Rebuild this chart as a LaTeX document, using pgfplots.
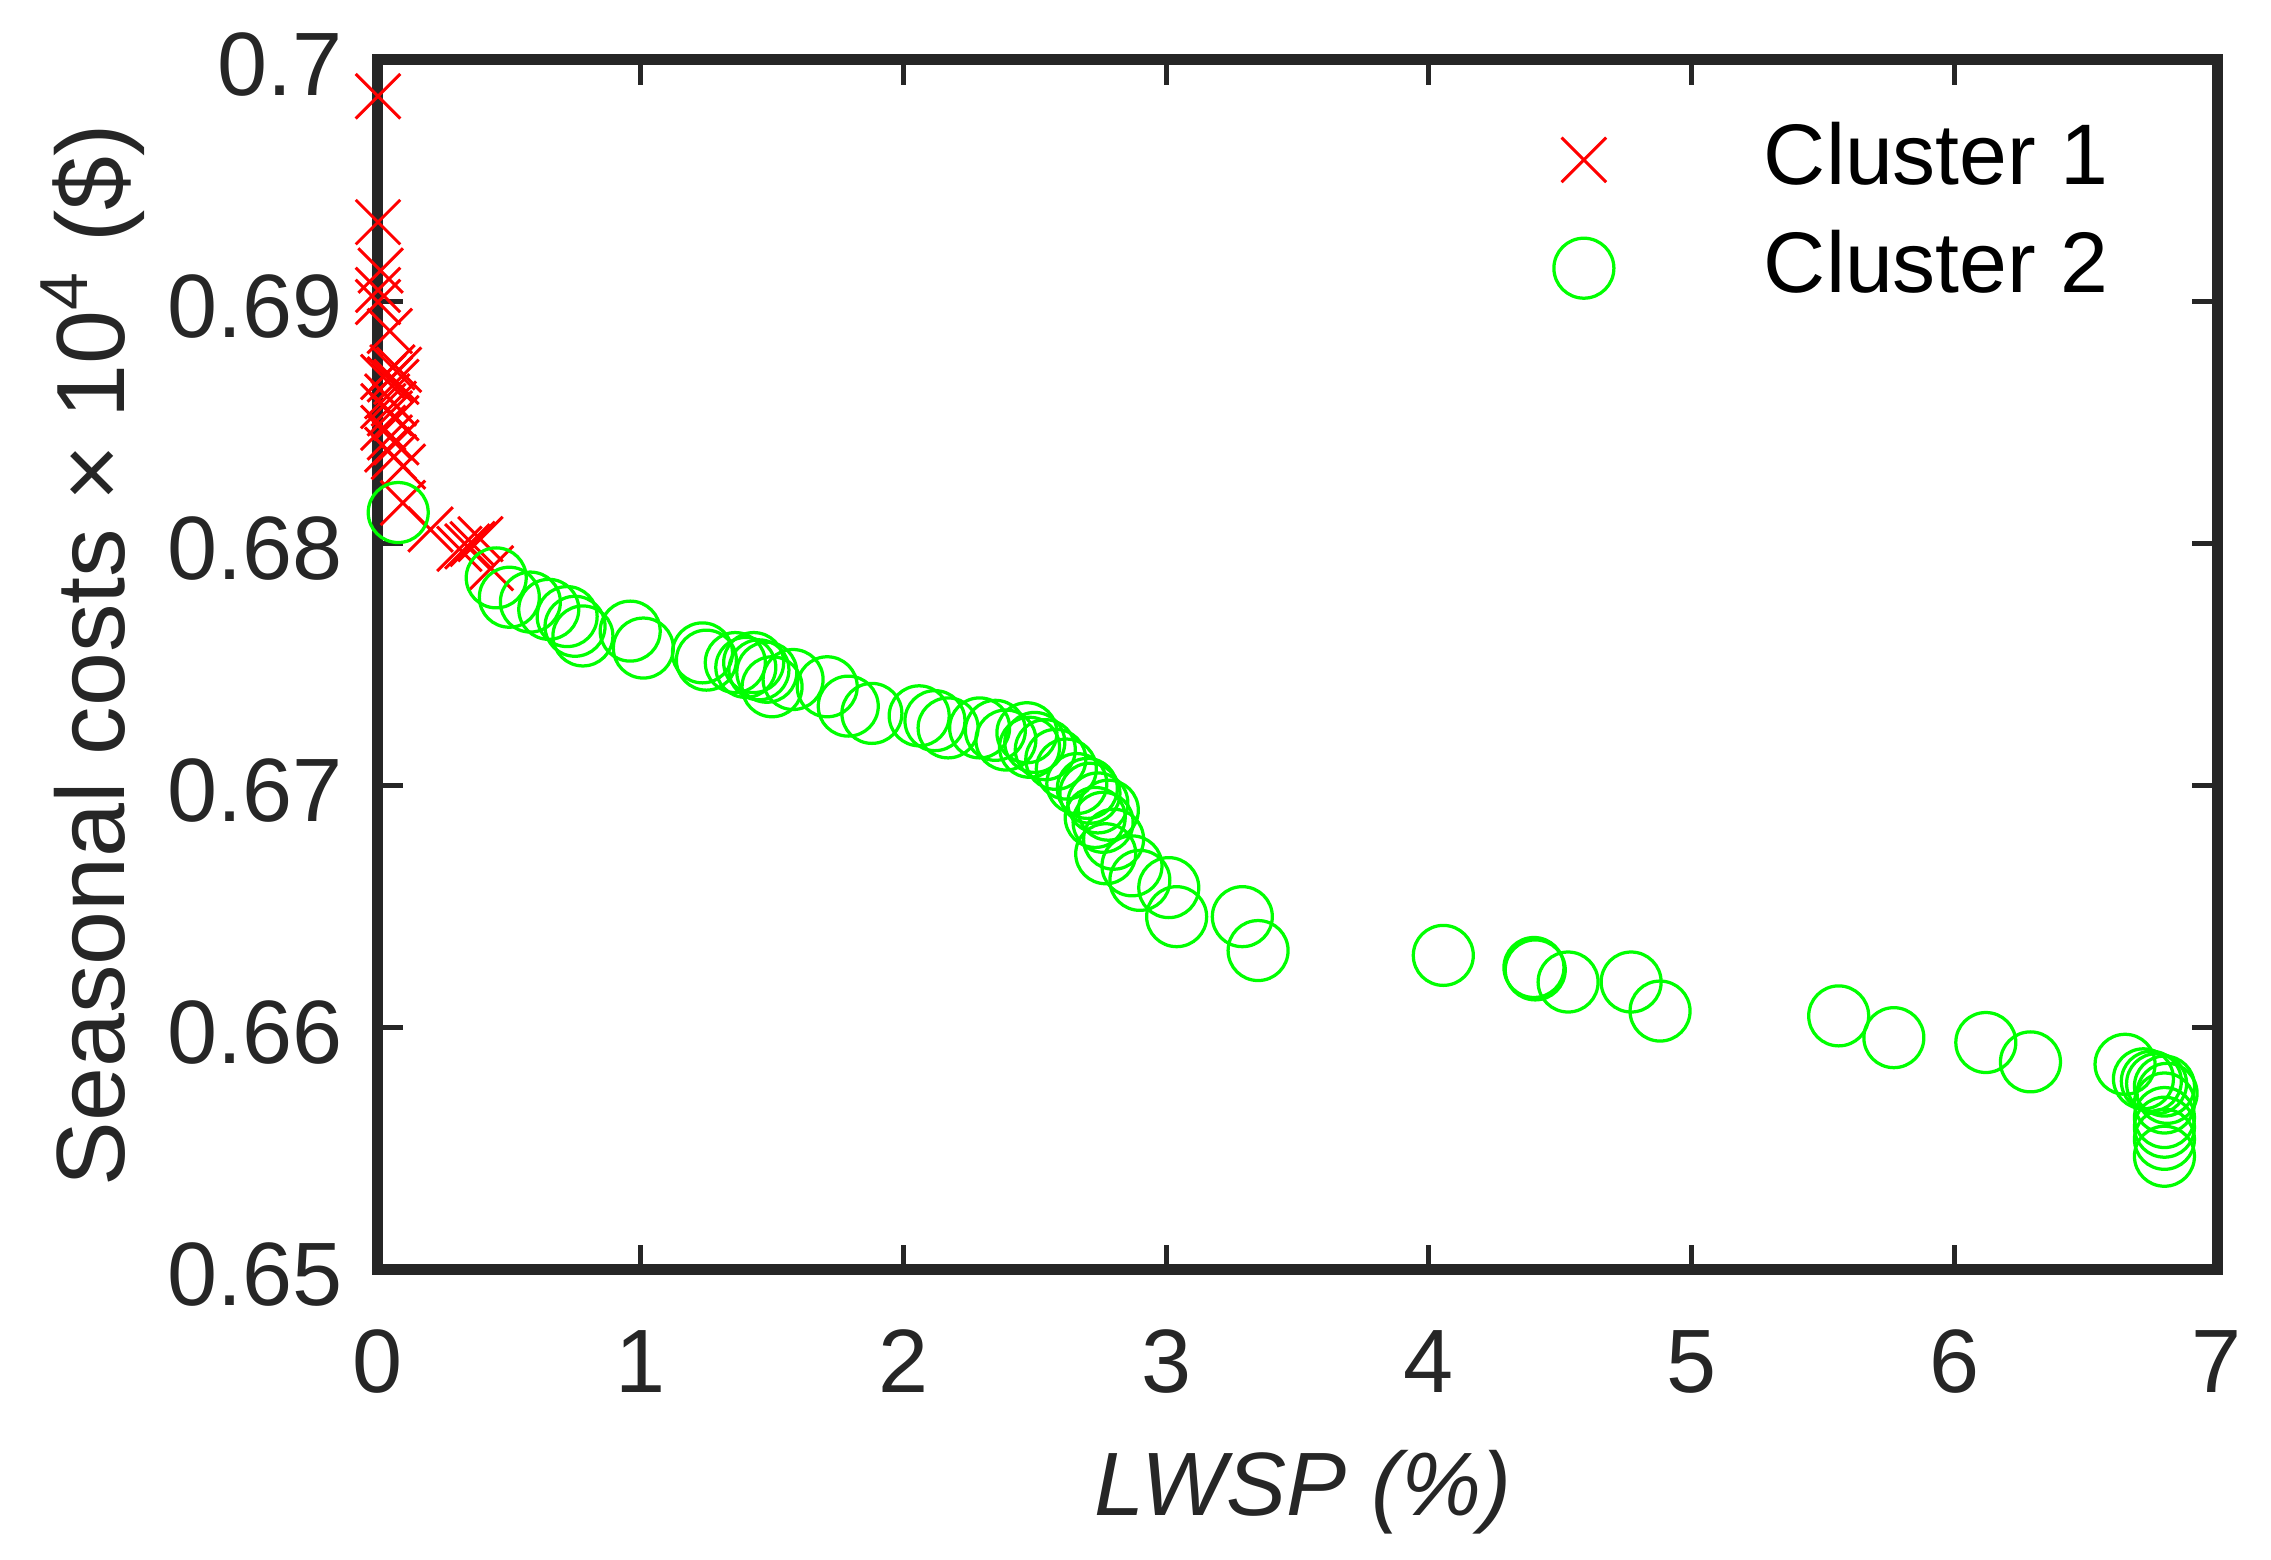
\documentclass[border=0pt]{standalone}
\usepackage{pgfplots}
\pgfplotsset{compat=1.18}
\usepackage{fontspec}
\setmainfont{Liberation Sans}
\definecolor{axgray}{HTML}{262626}
\newcommand{\bigf}{\fontsize{18}{21}\selectfont}
\newcommand{\labf}{\fontsize{19.4}{23}\selectfont}
\newcommand{\legf}{\fontsize{17.2}{20}\selectfont}
\pgfplotstableread{
x y
0.000 0.6985
0.000 0.6933
0.010 0.6913
0.000 0.6905
0.000 0.6900
0.045 0.6888
0.055 0.6873
0.080 0.6872
0.020 0.6869
0.045 0.6868
0.070 0.6867
0.035 0.6861
0.060 0.6858
0.020 0.6857
0.045 0.6854
0.070 0.6852
0.020 0.6848
0.045 0.6844
0.070 0.6842
0.035 0.6839
0.060 0.6836
0.095 0.6832
0.095 0.6817
0.200 0.6806
0.310 0.6798
0.340 0.6799
0.360 0.6800
0.390 0.6802
0.430 0.6790
}\clusterA
\pgfplotstableread{
x y
0.077 0.6813
0.45 0.6786
0.50 0.6778
0.58 0.6776
0.65 0.6773
0.72 0.6770
0.75 0.6766
0.78 0.6762
0.96 0.6764
1.01 0.6757
1.235 0.6755
1.25 0.6752
1.36 0.6751
1.40 0.6749
1.43 0.6751
1.45 0.6748
1.48 0.6747
1.50 0.6741
1.58 0.6744
1.71 0.6741
1.79 0.6733
1.88 0.6730
2.06 0.6729
2.12 0.6727
2.17 0.6724
2.29 0.6724
2.35 0.6723
2.39 0.6719
2.47 0.6722
2.48 0.6716
2.50 0.6718
2.54 0.6715
2.58 0.6711
2.62 0.6707
2.66 0.6701
2.70 0.6699
2.71 0.6697
2.74 0.6693
2.73 0.6687
2.76 0.6685
2.78 0.6690
2.77 0.6672
2.80 0.6678
2.87 0.6667
2.90 0.6661
3.01 0.6658
3.04 0.6646
3.29 0.6646
3.35 0.6632
4.055 0.6630
4.40 0.6625
4.405 0.6624
4.53 0.6619
4.77 0.6619
4.88 0.6607
5.56 0.6605
5.77 0.6596
6.12 0.6594
6.29 0.6586
6.65 0.6585
6.72 0.6579
6.75 0.6578
6.77 0.6577
6.80 0.6576
6.81 0.6573
6.80 0.6569
6.80 0.6563
6.80 0.6559
6.80 0.6554
6.80 0.6547
}\clusterB
\begin{document}
\bigf
\begin{tikzpicture}
\begin{axis}[
  at={(0,0)}, anchor=south west,
  scale only axis, width=367.8pt, height=242pt,
  xmin=0, xmax=7, ymin=0.65, ymax=0.70,
  xtick={0,1,2,3,4,5,6,7},
  ytick={0.65,0.66,0.67,0.68,0.69,0.70},
  tick align=inside, major tick length=5pt,
  every tick/.style={axgray, line width=1pt},
  axis line style={axgray, line width=2.2pt},
  tick label style={font=\bigf, text=axgray},
  /pgf/number format/assume math mode=true,
  yticklabel style={/pgf/number format/fixed, /pgf/number format/precision=2, anchor=east, inner sep=0pt, xshift=-6.8pt, yshift=-1pt},
  xticklabel style={anchor=base, inner sep=0pt, yshift=-24.6pt},
  xlabel={\textit{LWSP (\%)}},
  xlabel style={at={(axis description cs:0.503,0)}, anchor=base, inner sep=0pt, yshift=-49pt, font=\bigf, text=axgray},
  ylabel={Seasonal costs × 10\textsuperscript{4} (\$)},
  ylabel style={at={([xshift=-50.6pt]axis description cs:0,0.508)}, anchor=base, inner sep=0pt, font=\labf, text=axgray},
  clip=false,
  legend cell align=left,
  legend image code/.code={\draw[#1] plot coordinates {(0pt,0pt)}; \path[draw=none,fill=none] (-10pt,0pt) -- (36pt,0pt);},
  legend style={draw=none, fill=none, inner sep=0pt, at={(0.628,0.9496)}, anchor=north west, font=\legf, row sep=6.5pt, nodes={inner sep=0pt}},
]
\addplot[only marks, mark=x, mark size=6.3pt, red, line width=0.6pt] table[x=x,y=y] {\clusterA};
\addlegendentry{Cluster 1}
\addplot[only marks, mark=o, mark size=6pt, color={rgb,1:red,0;green,1;blue,0}, line width=0.65pt] table[x=x,y=y] {\clusterB};
\addlegendentry{Cluster 2}
\end{axis}
\pgfresetboundingbox
\useasboundingbox (-75.6pt,-58pt) rectangle (378.6pt,254pt);
\end{tikzpicture}
\end{document}
